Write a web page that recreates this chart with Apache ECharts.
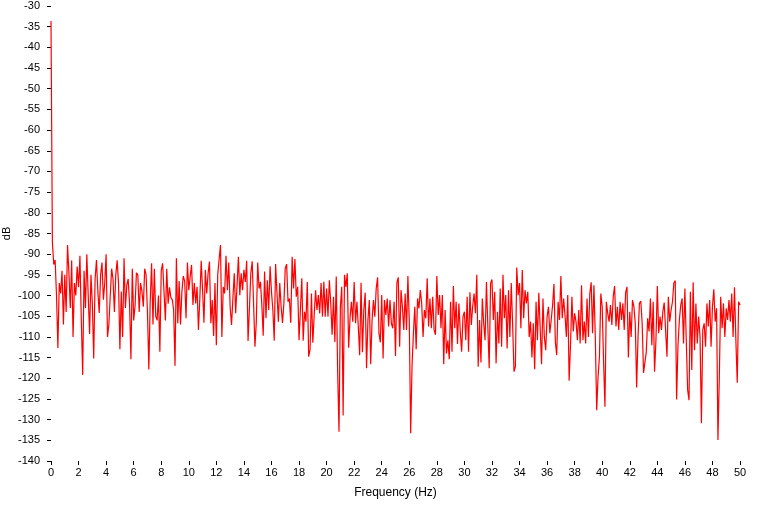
<!DOCTYPE html>
<html>
<head>
<meta charset="utf-8">
<script src="https://cdn.jsdelivr.net/npm/echarts@6/dist/echarts.min.js"></script>
<style>
html,body{margin:0;padding:0;background:#fff;}
#chart{width:759px;height:506px;}
</style>
</head>
<body>
<div id="chart"></div>
<script>
// Frequency resolution of the spectrum (Hz between samples)
const freqStepHz = 0.1;
// Magnitude values in dB, one per 0.1 Hz from 0 to 50 Hz
const magnitudeDb = [
  -33.6, -87.0, -92.5, -91.4, -100.0, -112.7, -97.0, -99.5, -94.0, -107.0,
  -95.0, -104.0, -87.8, -94.5, -103.0, -91.5, -110.0, -97.0, -100.0, -93.0,
  -98.0, -90.4, -106.0, -119.2, -94.0, -103.0, -90.0, -100.0, -109.3, -95.0,
  -102.0, -115.2, -96.0, -91.4, -99.0, -104.2, -95.0, -92.0, -101.0, -97.0,
  -90.0, -110.0, -107.0, -100.0, -93.5, -96.0, -104.0, -95.0, -91.5, -97.0,
  -113.0, -99.0, -110.0, -91.0, -103.0, -97.5, -96.0, -102.0, -115.4, -93.5,
  -106.0, -102.5, -94.5, -95.0, -104.0, -97.0, -99.0, -102.7, -93.5, -95.0,
  -104.0, -117.9, -101.5, -92.2, -107.0, -93.5, -105.0, -106.0, -100.0, -113.6,
  -94.0, -92.2, -99.0, -106.0, -93.5, -102.0, -98.0, -100.5, -101.0, -103.5,
  -117.0, -91.0, -106.7, -96.5, -107.0, -99.0, -95.3, -96.5, -105.5, -92.0,
  -98.7, -95.4, -92.6, -102.3, -97.0, -101.9, -97.9, -108.3, -100.7, -91.6,
  -98.7, -106.6, -93.8, -99.5, -94.6, -91.8, -106.7, -101.1, -109.8, -97.0,
  -112.0, -95.0, -91.2, -87.8, -110.0, -97.9, -99.5, -90.4, -98.7, -92.0,
  -102.7, -107.1, -100.7, -94.6, -104.3, -97.5, -90.6, -99.9, -94.6, -98.7,
  -93.8, -96.7, -91.6, -111.0, -103.1, -94.6, -91.7, -101.9, -112.4, -106.3,
  -92.0, -98.3, -96.7, -102.3, -109.7, -94.2, -105.5, -96.3, -103.5, -92.9,
  -99.1, -103.5, -110.9, -92.4, -99.5, -106.3, -97.0, -102.7, -106.6, -101.9,
  -93.4, -92.4, -101.5, -100.7, -106.6, -90.6, -98.3, -91.2, -100.3, -97.9,
  -110.8, -103.5, -95.8, -110.9, -103.9, -106.3, -96.7, -114.8, -113.0, -99.5,
  -111.4, -104.7, -98.7, -103.5, -99.9, -104.3, -97.0, -105.1, -96.7, -105.1,
  -98.3, -105.1, -96.3, -101.9, -109.5, -100.3, -111.2, -95.4, -118.2, -132.9,
  -102.7, -97.9, -129.0, -95.0, -97.9, -94.6, -112.6, -105.5, -101.5, -106.3,
  -96.7, -106.7, -101.5, -107.5, -114.4, -96.9, -113.7, -103.5, -99.3, -117.6,
  -105.9, -101.1, -116.6, -105.9, -101.1, -105.1, -98.3, -95.6, -109.1, -111.3,
  -99.9, -115.2, -101.1, -104.7, -100.7, -107.5, -101.1, -106.7, -107.9, -101.5,
  -114.6, -96.9, -95.6, -112.4, -98.7, -102.7, -108.3, -99.5, -108.3, -95.3,
  -106.3, -133.3, -117.0, -109.1, -102.7, -113.0, -100.7, -103.1, -98.7, -101.9,
  -110.0, -103.5, -105.5, -95.8, -107.5, -100.7, -107.9, -100.3, -108.3, -109.5,
  -95.3, -104.7, -99.9, -107.9, -99.9, -116.6, -103.5, -114.0, -110.8, -115.4,
  -101.5, -113.6, -97.7, -107.9, -101.5, -111.7, -101.9, -108.7, -113.6, -105.1,
  -103.9, -110.8, -100.3, -113.6, -99.2, -107.1, -102.7, -99.5, -104.3, -95.0,
  -117.2, -105.9, -116.2, -100.7, -106.7, -110.8, -96.7, -107.5, -117.6, -97.0,
  -96.1, -105.9, -99.1, -116.4, -103.9, -111.6, -98.3, -112.4, -95.0, -105.5,
  -99.9, -112.8, -98.7, -110.0, -97.0, -107.1, -118.4, -117.2, -93.2, -99.9,
  -97.0, -107.9, -93.8, -105.5, -98.7, -101.9, -99.1, -110.0, -106.3, -115.0,
  -106.7, -117.8, -101.5, -110.8, -99.3, -107.9, -116.6, -100.7, -110.0, -113.2,
  -105.1, -102.7, -109.1, -105.9, -102.3, -97.2, -111.2, -114.4, -101.5, -105.9,
  -95.3, -105.5, -100.7, -104.7, -110.0, -99.9, -120.6, -112.0, -100.3, -108.7,
  -104.3, -106.3, -110.8, -103.5, -111.6, -97.5, -110.8, -106.3, -111.6, -100.7,
  -110.0, -99.5, -96.8, -109.1, -97.5, -110.0, -127.7, -119.6, -114.8, -99.5,
  -102.7, -116.0, -126.9, -101.5, -104.3, -106.3, -102.3, -107.1, -100.3, -97.7,
  -107.5, -102.7, -108.3, -101.5, -105.9, -101.9, -108.3, -99.3, -97.9, -115.0,
  -103.9, -110.0, -101.1, -102.7, -106.7, -122.2, -110.0, -101.9, -101.3, -106.7,
  -118.7, -118.4, -113.6, -105.5, -108.7, -100.7, -112.0, -101.5, -118.4, -110.8,
  -97.7, -109.1, -105.1, -108.3, -103.9, -101.7, -108.3, -114.8, -100.3, -106.3,
  -103.5, -101.5, -97.0, -96.4, -125.1, -112.0, -105.9, -102.3, -100.7, -111.6,
  -98.3, -110.8, -122.8, -125.3, -99.1, -118.0, -96.8, -113.2, -101.9, -111.6,
  -105.1, -110.0, -130.9, -108.3, -106.7, -112.4, -101.9, -107.5, -101.1, -112.4,
  -102.7, -98.5, -106.3, -103.1, -134.9, -119.6, -100.3, -107.9, -101.9, -110.0,
  -103.1, -105.9, -101.1, -106.3, -99.5, -110.0, -98.0, -110.8, -121.1, -101.5,
  -102.3
];
// Axis ranges / tick steps
const xRange = [0, 50];
const xTickStep = 2;
const yRange = [-140, -30];
const yTickStep = 5;
const xAxisTitle = 'Frequency (Hz)';
const yAxisTitle = 'dB';

const seriesData = magnitudeDb.map((v, i) => [Math.round(i * freqStepHz * 100) / 100, v]);

const chart = echarts.init(document.getElementById('chart'), null, {renderer: 'canvas'});
const font = 'Liberation Sans, Arial, sans-serif';
chart.setOption({
  animation: false,
  backgroundColor: '#ffffff',
  grid: {left: 51, right: 19, top: 6, bottom: 45, containLabel: false, outerBoundsMode: 'none'},
  xAxis: {
    type: 'value',
    min: xRange[0], max: xRange[1], interval: xTickStep,
    name: xAxisTitle, nameLocation: 'middle', nameGap: 26, nameMoveOverlap: false,
    nameTextStyle: {color: '#000', fontSize: 12, fontFamily: font},
    axisLine: {show: false},
    axisTick: {show: true, length: 4, lineStyle: {color: '#000', width: 1}},
    axisLabel: {color: '#000', fontSize: 11, fontFamily: font, margin: 6},
    splitLine: {show: false}
  },
  yAxis: {
    type: 'value',
    min: yRange[0], max: yRange[1], interval: yTickStep,
    offset: 3,
    name: yAxisTitle, nameLocation: 'middle', nameGap: 36, nameMoveOverlap: false,
    nameRotate: 90,
    nameTextStyle: {color: '#000', fontSize: 11, fontFamily: font},
    axisLine: {show: false},
    axisTick: {show: true, length: 4, lineStyle: {color: '#000', width: 1}},
    axisLabel: {color: '#000', fontSize: 11, fontFamily: font, margin: 8},
    splitLine: {show: false}
  },
  series: [{
    type: 'line',
    data: seriesData,
    showSymbol: false,
    symbol: 'none',
    lineStyle: {color: '#ff0000', width: 1.2},
    itemStyle: {color: '#ff0000'}
  }]
});
</script>
</body>
</html>
